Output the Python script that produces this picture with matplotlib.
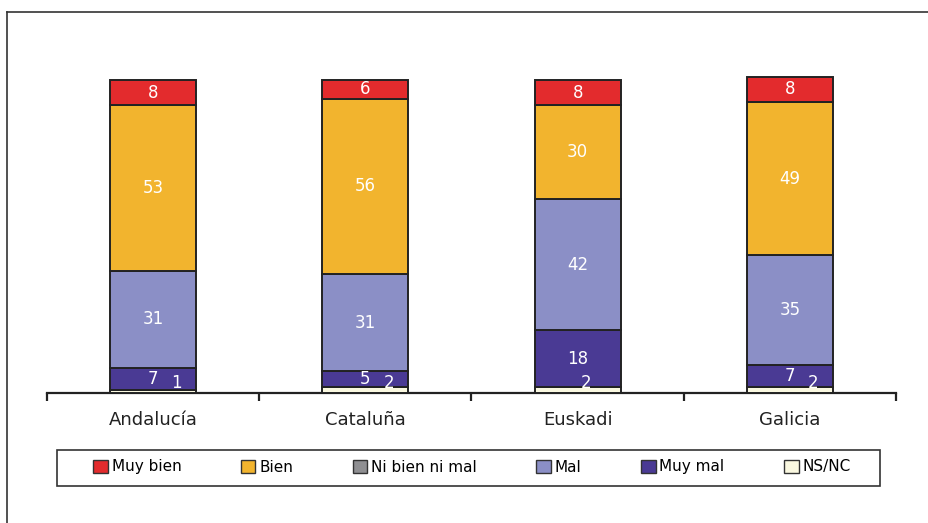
import matplotlib
matplotlib.use("Agg")
import matplotlib.pyplot as plt
from matplotlib.patches import Patch, Rectangle
from matplotlib.lines import Line2D
import numpy as np

plt.rcParams['font.family'] = ['DejaVu Sans']

regions = ["Andalucía", "Cataluña", "Euskadi", "Galicia"]
series_names = ["NS/NC", "Muy mal", "Mal", "Ni bien ni mal", "Bien", "Muy bien"]
ns_nc = [1, 2, 2, 2]
muy_mal = [7, 5, 18, 7]
mal = [31, 31, 42, 35]
ni_bien_ni_mal = [0, 0, 0, 0]
bien = [53, 56, 30, 49]
muy_bien = [8, 6, 8, 8]
legend_order = ["Muy bien", "Bien", "Ni bien ni mal", "Mal", "Muy mal", "NS/NC"]

colors = {
    "Muy bien": "#E32B2D",
    "Bien": "#F2B42E",
    "Ni bien ni mal": "#8F8F92",
    "Mal": "#8B8FC6",
    "Muy mal": "#4A3A94",
    "NS/NC": "#FAF8E0",
}
values = {
    "NS/NC": ns_nc, "Muy mal": muy_mal, "Mal": mal,
    "Ni bien ni mal": ni_bien_ni_mal, "Bien": bien, "Muy bien": muy_bien,
}

W, H = 929, 523
fig = plt.figure(figsize=(W / 100, H / 100), dpi=100)
ax = fig.add_axes([47 / W, 1 - 393 / H, (896 - 47) / W, (393 - 30) / H])

x = np.arange(len(regions))
bottom = np.zeros(len(regions))
for name in series_names:
    v = np.array(values[name], dtype=float)
    ax.bar(x, v, width=0.405, bottom=bottom, color=colors[name],
           edgecolor="#222222", linewidth=1.4, zorder=3)
    for i in range(len(regions)):
        if v[i] <= 0:
            continue
        if name == "NS/NC":
            dx = 0.11 if muy_mal[i] < 10 else 0.04
            ax.text(x[i] + dx, 3.3, f"{int(v[i])}", ha="center", va="center",
                    color="white", fontsize=12, zorder=5)
        else:
            ax.text(x[i], bottom[i] + v[i] / 2, f"{int(v[i])}", ha="center",
                    va="center", color="white", fontsize=12, zorder=5)
    bottom += v

ax.set_xlim(-0.5, len(regions) - 0.5)
ax.set_ylim(0, (393 - 30) / 3.13)
for s in ["top", "right", "left"]:
    ax.spines[s].set_visible(False)
ax.spines["bottom"].set_linewidth(1.6)
ax.spines["bottom"].set_color("#222222")
ax.set_yticks([])
ax.set_xticks(x)
ax.set_xticklabels(regions, fontsize=13, color="#222222")
ax.tick_params(axis="x", which="major", length=0, pad=13)
ax.set_xticks(np.arange(-0.5, len(regions)), minor=True)
ax.tick_params(axis="x", which="minor", length=6, width=1.6, color="#222222",
               direction="out")
ax.patch.set_alpha(0)

# legend
handles = [Patch(facecolor=colors[n], edgecolor="#333333", linewidth=1.0)
           for n in legend_order]
leg = fig.legend(handles, legend_order, loc="center",
                 bbox_to_anchor=(472 / W, 1 - 467 / H), ncol=6, frameon=False,
                 fontsize=11, handlelength=0.95, handleheight=0.95,
                 handletextpad=0.25, columnspacing=3.9)
fig.patches.append(Rectangle((57 / W, 1 - 486 / H), (880 - 57) / W, 36 / H,
                             transform=fig.transFigure, fill=False,
                             edgecolor="#333333", linewidth=1.2))

# outer frame (top and left edges)
fig.lines.append(Line2D([7 / W, 1], [1 - 12 / H, 1 - 12 / H],
                        transform=fig.transFigure, color="#333333", linewidth=1.2))
fig.lines.append(Line2D([7 / W, 7 / W], [0, 1 - 12 / H],
                        transform=fig.transFigure, color="#333333", linewidth=1.2))

fig.savefig("out.png", dpi=100)
